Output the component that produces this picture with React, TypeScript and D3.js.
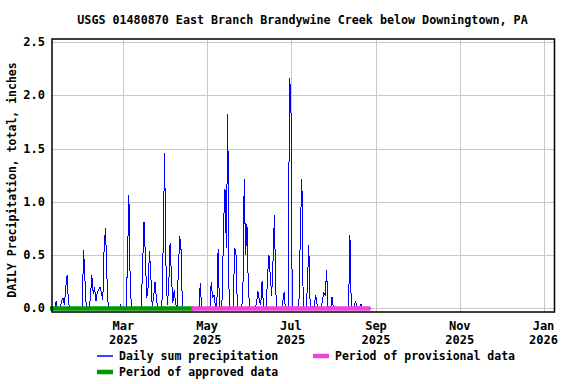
import React, { useEffect, useRef } from 'react';
import * as d3 from 'd3';

const title = 'USGS 01480870 East Branch Brandywine Creek below Downingtown, PA';
const yTitle = 'DAILY Precipitation, total, inches';

// daily sum precipitation, inches. Jan array starts on Jan 8, Aug ends on Aug 28
const precipJan = [0, 0, 0, 0.07, 0, 0, 0, 0.07, 0.1, 0.03, 0.2, 0.31, 0.05, 0, 0, 0, 0, 0, 0, 0, 0, 0, 0, 0.55];
const precipFeb = [0.27, 0, 0, 0, 0.1, 0.31, 0.14, 0.2, 0.07, 0.15, 0.18, 0.2, 0.15, 0.08, 0.59, 0.75, 0.3, 0, 0, 0, 0, 0, 0, 0, 0, 0, 0.03, 0];
const precipMar = [0, 0, 0, 0.45, 1.06, 0.2, 0, 0, 0, 0, 0, 0, 0, 0, 0.4, 0.81, 0.5, 0.1, 0.2, 0.54, 0.3, 0.02, 0.1, 0.25, 0.1, 0, 0, 0, 0, 0.6, 1.46];
const precipApr = [0.41, 0.03, 0.2, 0.61, 0.3, 0.05, 0.17, 0.05, 0, 0.34, 0.68, 0.55, 0, 0, 0, 0, 0, 0, 0, 0, 0, 0, 0, 0, 0, 0.24, 0, 0, 0, 0];
const precipMay = [0, 0, 0, 0.25, 0.1, 0.13, 0.02, 0, 0.56, 0, 0, 0.1, 0.8, 1.12, 0.57, 1.82, 0.05, 0, 0, 0, 0.57, 0.52, 0.02, 0, 0, 0, 0.1, 1.21, 0.5, 0.79, 0.2];
const precipJun = [0, 0, 0, 0, 0, 0.05, 0.16, 0.08, 0.03, 0.26, 0.03, 0, 0, 0.3, 0.5, 0.3, 0.12, 0.45, 0.88, 0.15, 0, 0, 0, 0, 0.05, 0.15, 0, 0, 0, 2.16];
const precipJul = [2.0, 0, 0, 0, 0, 0, 0.1, 0.8, 1.21, 0, 0, 0, 0.2, 0.6, 0.05, 0, 0.02, 0.02, 0.13, 0.04, 0, 0, 0, 0.08, 0.15, 0.12, 0.36, 0.02, 0, 0, 0.11];
const precipAug = [0, 0, 0, 0, 0, 0, 0, 0, 0, 0, 0, 0, 0.69, 0, 0, 0, 0.07, 0.03, 0, 0.01, 0.04, 0, 0, 0, 0, 0, 0, 0];

const monthStarts = ['2025-01-08', '2025-02-01', '2025-03-01', '2025-04-01', '2025-05-01', '2025-06-01', '2025-07-01', '2025-08-01'];
const monthValues = [precipJan, precipFeb, precipMar, precipApr, precipMay, precipJun, precipJul, precipAug];

const approvedPeriod = ['2025-01-08', '2025-04-21'];
const provisionalPeriod = ['2025-04-21', '2025-08-28'];

const xDomain = ['2025-01-08', '2026-01-09'];
const xTicks = ['2025-03-01', '2025-05-01', '2025-07-01', '2025-09-01', '2025-11-01', '2026-01-01'];
const yTicks = [0, 0.5, 1, 1.5, 2, 2.5];

const parse = d3.timeParse('%Y-%m-%d');

const App = () => {
  const ref = useRef(null);

  useEffect(() => {
    const width = 576;
    const height = 384;
    const plot = { left: 52, right: 554.5, top: 39, bottom: 312 };
    const font = '"DejaVu Sans Mono", "Liberation Mono", monospace';

    const svg = d3.select(ref.current)
      .attr('width', width)
      .attr('height', height);
    svg.selectAll('*').remove();

    svg.append('rect').attr('width', width).attr('height', height).attr('fill', '#fff');

    const series = monthStarts.flatMap((s, m) =>
      monthValues[m].map((v, i) => ({ date: d3.timeDay.offset(parse(s), i), value: v }))
    );

    const x = d3.scaleTime()
      .domain(xDomain.map(parse))
      .range([plot.left, plot.right]);

    const y = d3.scaleLinear()
      .domain([-0.033, 2.528])
      .range([plot.bottom, plot.top]);

    // grid
    svg.append('g')
      .selectAll('line')
      .data(xTicks.map(parse))
      .join('line')
      .attr('x1', d => Math.round(x(d)) + 0.5)
      .attr('x2', d => Math.round(x(d)) + 0.5)
      .attr('y1', plot.top)
      .attr('y2', plot.bottom)
      .attr('stroke', '#c8c8c8')
      .attr('stroke-width', 1);

    svg.append('g')
      .selectAll('line')
      .data(yTicks)
      .join('line')
      .attr('x1', plot.left)
      .attr('x2', plot.right)
      .attr('y1', d => Math.round(y(d)) + 0.5)
      .attr('y2', d => Math.round(y(d)) + 0.5)
      .attr('stroke', '#c8c8c8')
      .attr('stroke-width', 1);

    // precipitation line
    const line = d3.line()
      .x(d => x(d.date))
      .y(d => y(d.value));

    svg.append('path')
      .datum(series)
      .attr('d', line)
      .attr('fill', 'none')
      .attr('stroke', '#0000ff')
      .attr('stroke-width', 1)
      .attr('shape-rendering', 'crispEdges');

    // data approval periods
    const periods = [
      { range: approvedPeriod, color: '#009900' },
      { range: provisionalPeriod, color: '#ee44dd' },
    ];
    svg.append('g')
      .selectAll('line')
      .data(periods)
      .join('line')
      .attr('x1', d => x(parse(d.range[0])) - 2)
      .attr('x2', d => x(parse(d.range[1])))
      .attr('y1', y(0))
      .attr('y2', y(0))
      .attr('stroke', d => d.color)
      .attr('stroke-width', 4.5);

    // frame
    svg.append('rect')
      .attr('x', plot.left)
      .attr('y', plot.top)
      .attr('width', plot.right - plot.left)
      .attr('height', plot.bottom - plot.top)
      .attr('fill', 'none')
      .attr('stroke', '#000')
      .attr('stroke-width', 1.5);

    // y tick labels
    svg.append('g')
      .selectAll('text')
      .data(yTicks)
      .join('text')
      .attr('x', 45)
      .attr('y', d => y(d) + 4)
      .attr('text-anchor', 'end')
      .attr('font-family', font)
      .attr('font-weight', 'bold')
      .attr('font-size', 12)
      .text(d => d3.format('.1f')(d));

    // x tick labels
    const xl = svg.append('g')
      .selectAll('text')
      .data(xTicks.map(parse))
      .join('text')
      .attr('text-anchor', 'middle')
      .attr('font-family', font)
      .attr('font-weight', 'bold')
      .attr('font-size', 12);
    xl.append('tspan')
      .attr('x', d => x(d))
      .attr('y', 330)
      .text(d3.timeFormat('%b'));
    xl.append('tspan')
      .attr('x', d => x(d))
      .attr('y', 344)
      .text(d3.timeFormat('%Y'));

    // title
    svg.append('text')
      .attr('x', 302.5)
      .attr('y', 24)
      .attr('text-anchor', 'middle')
      .attr('font-family', font)
      .attr('font-weight', 'bold')
      .attr('font-size', 11.7)
      .text(title);

    // y axis title
    svg.append('text')
      .attr('transform', 'rotate(-90)')
      .attr('x', -180)
      .attr('y', 16)
      .attr('text-anchor', 'middle')
      .attr('font-family', font)
      .attr('font-weight', 'bold')
      .attr('font-size', 11.5)
      .text(yTitle);

    // legend
    const legend = [
      { label: 'Daily sum precipitation', color: '#0000ff', w: 1.5, lx: 97, ly: 356 },
      { label: 'Period of provisional data', color: '#ee44dd', w: 4.5, lx: 313, ly: 356 },
      { label: 'Period of approved data', color: '#009900', w: 4.5, lx: 97, ly: 372 },
    ];
    const lg = svg.append('g')
      .selectAll('g')
      .data(legend)
      .join('g');
    lg.append('line')
      .attr('x1', d => d.lx)
      .attr('x2', d => d.lx + 16)
      .attr('y1', d => d.ly)
      .attr('y2', d => d.ly)
      .attr('stroke', d => d.color)
      .attr('stroke-width', d => d.w);
    lg.append('text')
      .attr('x', d => d.lx + 22)
      .attr('y', d => d.ly + 4)
      .attr('font-family', font)
      .attr('font-weight', 'bold')
      .attr('font-size', 11.5)
      .text(d => d.label);
  }, []);

  return <svg ref={ref} style={{ position: 'absolute', left: 0, top: 0 }}></svg>;
};

export default App;
